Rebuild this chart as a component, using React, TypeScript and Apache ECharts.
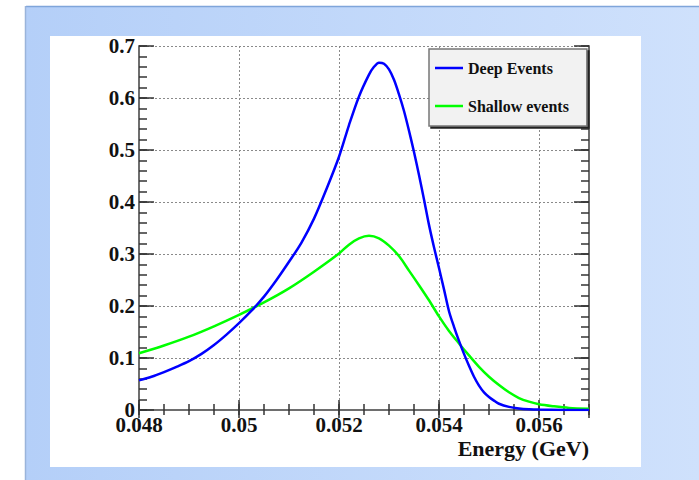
import React, { useEffect, useRef } from "react";
import * as echarts from "echarts";

// Energy (GeV) sample positions and curve values
const deepX = [0.048, 0.04825, 0.0485, 0.04875, 0.049, 0.04925, 0.0495, 0.04975, 0.05, 0.05025, 0.0505, 0.05075, 0.051, 0.05125, 0.0515, 0.05175, 0.052, 0.0522, 0.0524, 0.0526, 0.0527, 0.0528, 0.0529, 0.053, 0.0531, 0.0532, 0.0533, 0.0534, 0.0535, 0.0536, 0.0537, 0.0538, 0.0539, 0.054, 0.0541, 0.0542, 0.0543, 0.0544, 0.0545, 0.0546, 0.0547, 0.0548, 0.0549, 0.055, 0.0551, 0.0552, 0.0554, 0.0556, 0.0558, 0.056, 0.0565, 0.057];
const deepY = [0.057, 0.064, 0.073, 0.083, 0.094, 0.108, 0.125, 0.145, 0.167, 0.191, 0.218, 0.25, 0.285, 0.322, 0.368, 0.425, 0.487, 0.548, 0.603, 0.645, 0.66, 0.668, 0.666, 0.655, 0.635, 0.607, 0.575, 0.537, 0.496, 0.452, 0.405, 0.356, 0.313, 0.273, 0.232, 0.19, 0.16, 0.133, 0.108, 0.085, 0.064, 0.047, 0.034, 0.025, 0.018, 0.012, 0.006, 0.003, 0.0015, 0.0008, 0.0002, 0.0];

const shallowX = [0.048, 0.0485, 0.049, 0.0495, 0.05, 0.0505, 0.051, 0.0515, 0.052, 0.0522, 0.0524, 0.0526, 0.0528, 0.053, 0.0532, 0.0534, 0.0536, 0.0538, 0.054, 0.0542, 0.0544, 0.0546, 0.0548, 0.055, 0.0552, 0.0554, 0.0556, 0.0558, 0.056, 0.0563, 0.0566, 0.057];
const shallowY = [0.109, 0.124, 0.141, 0.161, 0.183, 0.207, 0.234, 0.266, 0.301, 0.318, 0.33, 0.335, 0.33, 0.316, 0.296, 0.268, 0.24, 0.211, 0.18, 0.152, 0.128, 0.105, 0.083, 0.064, 0.048, 0.034, 0.023, 0.016, 0.011, 0.007, 0.004, 0.0025];

const seriesNames = ["Deep Events", "Shallow events"];
const xTitle = "Energy (GeV)";

const X_MIN = 0.048;
const X_MAX = 0.057;
const Y_MIN = 0;
const Y_MAX = 0.7;

const FONT = "Liberation Serif";

export default function App() {
  const ref = useRef<HTMLDivElement>(null);

  useEffect(() => {
    if (!ref.current) return;
    const chart = echarts.init(ref.current, null, { renderer: "svg" });

    const tickColor = "#333";
    const frameColor = "#6e6e6e";
    const labelStyle = {
      fontFamily: FONT,
      fontWeight: "bold" as const,
      fontSize: 21,
      color: "#111",
    };

    const xBase = {
      type: "value" as const,
      min: X_MIN,
      max: X_MAX,
      splitLine: { show: false },
      axisLabel: { show: false },
    };
    const yBase = {
      type: "value" as const,
      min: Y_MIN,
      max: Y_MAX,
      splitLine: { show: false },
      axisLabel: { show: false },
    };

    chart.setOption({
      animation: false,
      backgroundColor: "#ffffff",
      graphic: [
        {
          type: "rect",
          shape: { x: 26, y: 6, width: 673, height: 474 },
          style: {
            fill: new echarts.graphic.LinearGradient(0, 0, 1, 0, [
              { offset: 0, color: "#b4cff8" },
              { offset: 1, color: "#cfe1fc" },
            ]),
          },
          z: -10,
        },
        {
          type: "line",
          shape: { x1: 26, y1: 6.5, x2: 699, y2: 6.5 },
          style: { stroke: "#7fa5da", lineWidth: 1.5 },
          z: -9,
        },
        {
          type: "line",
          shape: { x1: 25.5, y1: 6, x2: 25.5, y2: 480 },
          style: { stroke: "#9ab4da", lineWidth: 1.5 },
          z: -9,
        },
        {
          type: "rect",
          shape: { x: 50, y: 36, width: 591, height: 431 },
          style: { fill: "#ffffff" },
          z: -8,
        },
        {
          type: "text",
          x: 589,
          y: 437,
          style: {
            text: xTitle,
            fontFamily: FONT,
            fontWeight: "bold",
            fontSize: 22,
            fill: "#111",
            align: "right",
            verticalAlign: "top",
          },
        },
      ],
      grid: { left: 139, top: 46, width: 450, height: 364, containLabel: false },
      legend: {
        data: seriesNames,
        orient: "vertical",
        left: 429,
        top: 49,
        padding: [9, 18, 10, 6],
        itemGap: 18,
        itemWidth: 28,
        itemHeight: 2.5,
        icon: "rect",
        selectedMode: false,
        backgroundColor: "#f2f2f2",
        borderColor: "#777",
        borderWidth: 1.5,
        borderRadius: 0,
        shadowColor: "#222",
        shadowOffsetX: 2,
        shadowOffsetY: 2,
        shadowBlur: 0,
        textStyle: {
          fontFamily: FONT,
          fontWeight: "bold",
          fontSize: 16,
          color: "#111",
          lineHeight: 20,
        },
      },
      xAxis: [
        {
          ...xBase,
          position: "bottom",
          interval: 0.002,
          axisLine: { show: true, lineStyle: { color: frameColor, width: 2 } },
          axisTick: { show: true, inside: true, length: 10, lineStyle: { color: tickColor, width: 1.5 } },
          axisLabel: { show: true, margin: 4, showMaxLabel: false, ...labelStyle },
          splitLine: { show: true, lineStyle: { color: "#8a8a8a", width: 1, type: [2, 2] } },
        },
        {
          ...xBase,
          position: "bottom",
          interval: 0.0005,
          axisLine: { show: false },
          axisTick: { show: true, inside: true, length: 6, lineStyle: { color: tickColor, width: 1.5 } },
        },
        {
          ...xBase,
          position: "top",
          interval: 0.002,
          axisLine: { show: true, lineStyle: { color: frameColor, width: 2 } },
          axisTick: { show: true, inside: true, length: 8, lineStyle: { color: tickColor, width: 1.5 } },
        },
        {
          ...xBase,
          position: "top",
          interval: 0.0005,
          axisLine: { show: false },
          axisTick: { show: true, inside: true, length: 5, lineStyle: { color: tickColor, width: 1.5 } },
        },
      ],
      yAxis: [
        {
          ...yBase,
          position: "left",
          interval: 0.1,
          axisLine: { show: true, lineStyle: { color: frameColor, width: 2 } },
          axisTick: { show: true, inside: true, length: 15, lineStyle: { color: tickColor, width: 1.5 } },
          axisLabel: { show: true, margin: 4, ...labelStyle },
          splitLine: { show: true, lineStyle: { color: "#8a8a8a", width: 1, type: [2, 2] } },
        },
        {
          ...yBase,
          position: "left",
          interval: 0.02,
          axisLine: { show: false },
          axisTick: { show: true, inside: true, length: 8, lineStyle: { color: tickColor, width: 1.5 } },
        },
        {
          ...yBase,
          position: "right",
          interval: 0.1,
          axisLine: { show: true, lineStyle: { color: frameColor, width: 2 } },
          axisTick: { show: true, inside: true, length: 15, lineStyle: { color: tickColor, width: 1.5 } },
        },
        {
          ...yBase,
          position: "right",
          interval: 0.02,
          axisLine: { show: false },
          axisTick: { show: true, inside: true, length: 8, lineStyle: { color: tickColor, width: 1.5 } },
        },
      ],
      series: [
        {
          name: seriesNames[0],
          type: "line",
          xAxisIndex: 0,
          yAxisIndex: 0,
          smooth: 0.3,
          showSymbol: false,
          symbol: "none",
          data: deepX.map((x, i) => [x, deepY[i]]),
          lineStyle: { color: "#0000ff", width: 2.5 },
          itemStyle: { color: "#0000ff" },
          z: 5,
        },
        {
          name: seriesNames[1],
          type: "line",
          xAxisIndex: 0,
          yAxisIndex: 0,
          smooth: 0.3,
          showSymbol: false,
          symbol: "none",
          data: shallowX.map((x, i) => [x, shallowY[i]]),
          lineStyle: { color: "#00ff00", width: 2.5 },
          itemStyle: { color: "#00ff00" },
          z: 4,
        },
      ],
    });

    return () => chart.dispose();
  }, []);

  return (
    <div
      ref={ref}
      style={{ position: "fixed", left: 0, top: 0, width: 699, height: 480 }}
    />
  );
}
